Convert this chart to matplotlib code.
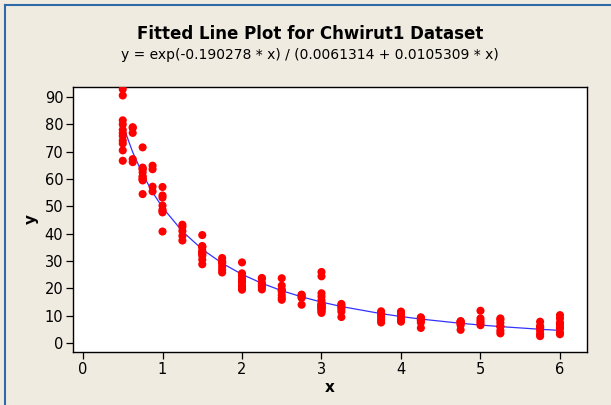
import matplotlib
matplotlib.use("Agg")
import matplotlib.pyplot as plt
from matplotlib.lines import Line2D

X_COLS = [0.5, 0.625, 0.75, 0.875, 1.0, 1.25, 1.5, 1.75, 2.0, 2.25, 2.5,
          2.75, 3.0, 3.25, 3.75, 4.0, 4.25, 4.75, 5.0, 5.25, 5.75, 6.0]
Y_COLS = [
    [92.9, 90.6, 81.5, 80.0, 78.0, 76.8, 75.8, 74.1, 73.0, 70.5, 66.7],
    [79.0, 78.7, 76.9, 67.3, 66.2],
    [71.6, 64.2, 63.8, 63.5, 62.4, 61.0, 60.8, 60.0, 59.9, 59.5, 54.5],
    [64.9, 63.6, 57.2, 55.5],
    [57.1, 54.0, 53.2, 50.3, 48.8, 48.3, 47.8, 40.8],
    [43.3, 42.5, 41.0, 39.2, 37.5],
    [39.5, 35.5, 35.2, 35.0, 33.8, 33.2, 32.9, 32.5, 32.0, 30.5, 28.8],
    [31.1, 30.0, 29.4, 29.3, 28.0, 26.8, 25.8],
    [29.5, 25.5, 24.5, 23.5, 22.6, 22.2, 21.0, 20.3, 20.0, 19.5],
    [23.8, 23.6, 22.1, 21.4, 21.0, 20.4, 19.6],
    [23.7, 21.0, 19.5, 19.3, 18.8, 17.5, 16.5, 15.8],
    [17.7, 17.5, 16.8, 16.5, 14.0],
    [26.0, 24.4, 18.2, 17.0, 15.6, 14.6, 14.0, 13.9, 13.8, 13.3, 13.1,
     12.8, 12.6, 12.4, 11.8, 11.5, 11.0],
    [14.3, 13.8, 13.2, 12.5, 11.5, 9.5],
    [11.6, 10.9, 10.5, 9.5, 8.5, 7.5],
    [11.5, 11.2, 10.4, 9.5, 8.5, 7.8],
    [9.4, 9.2, 8.6, 8.2, 7.5, 5.5],
    [8.0, 7.9, 7.7, 7.4, 7.1, 6.5, 4.8],
    [11.8, 9.0, 8.1, 7.3, 6.5],
    [9.0, 8.5, 7.4, 6.1, 6.0, 4.5, 3.5],
    [7.8, 6.1, 6.0, 5.6, 4.5, 3.3, 2.5],
    [10.2, 9.0, 7.4, 7.2, 6.7, 5.6, 5.4, 3.9, 3.2],
]
# Fitted model value at each distinct x
FIT_Y = [79.78, 69.84, 61.80, 55.17, 49.62, 40.86, 34.28, 29.19, 25.13,
         21.85, 19.15, 16.89, 14.98, 13.35, 10.74, 9.68, 8.75, 7.21, 6.57,
         6.00, 5.02, 4.61]

X_TICKS = [0, 1, 2, 3, 4, 5, 6]
Y_TICKS = [0, 10, 20, 30, 40, 50, 60, 70, 80, 90]

BG = "#efebe1"

fig = plt.figure(figsize=(6.11, 4.05), dpi=100, facecolor=BG)
ax = fig.add_axes([73 / 611, 53 / 405, 514 / 611, 265 / 405])
ax.set_facecolor("white")

xs = [x for x, ys in zip(X_COLS, Y_COLS) for _ in ys]
ys = [y for col in Y_COLS for y in col]
ax.scatter(xs, ys, s=34, c="#ff0000", edgecolors="none", zorder=3)
ax.plot(X_COLS, FIT_Y, color="#3333ff", linewidth=0.9, zorder=2)

ax.set_xlim(-0.126, 6.34)
ax.set_ylim(-3.3, 93.7)
ax.set_xticks(X_TICKS)
ax.set_yticks(Y_TICKS)
ax.tick_params(direction="out", length=5, width=0.9, color="black",
               labelsize=10.5, pad=2)
for sp in ax.spines.values():
    sp.set_color("black")
    sp.set_linewidth(1.0)

ax.set_xlabel("x", fontsize=11, fontweight="bold", labelpad=2)
ax.set_ylabel("y", fontsize=11, fontweight="bold", labelpad=4)

fig.text(310 / 611, 1 - 34 / 405, "Fitted Line Plot for Chwirut1 Dataset",
         ha="center", va="center", fontsize=12, fontweight="bold")
fig.text(310 / 611, 1 - 55 / 405,
         "y = exp(-0.190278 * x) / (0.0061314 + 0.0105309 * x)",
         ha="center", va="center", fontsize=10)

# thin blue frame on the left and top edges
frame_kw = dict(color="#2f6aa8", linewidth=1.5, transform=fig.transFigure)
fig.add_artist(Line2D([4.5 / 611, 4.5 / 611], [0, 1 - 4.5 / 405], **frame_kw))
fig.add_artist(Line2D([4.5 / 611, 1], [1 - 4.5 / 405, 1 - 4.5 / 405], **frame_kw))

fig.savefig("out.png", dpi=100, facecolor=BG)
